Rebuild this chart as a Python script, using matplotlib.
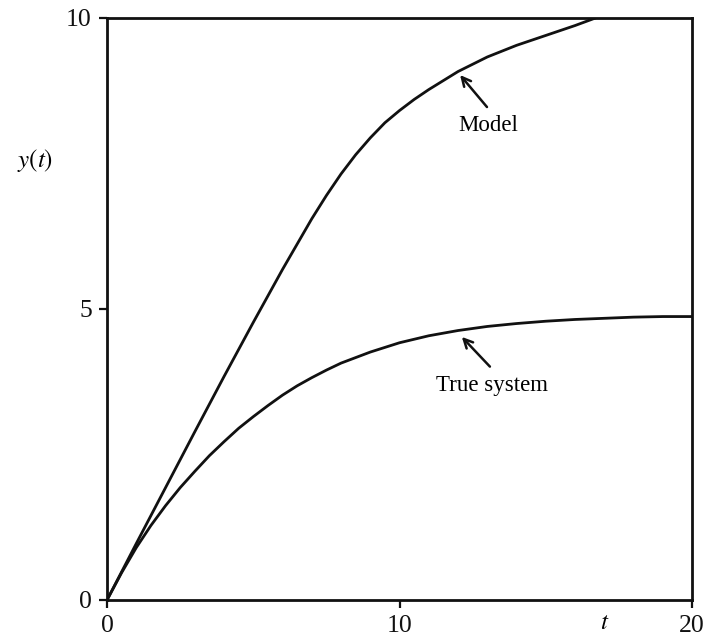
import matplotlib
matplotlib.use('Agg')
import matplotlib.pyplot as plt

plt.rcParams['font.family'] = ['Liberation Serif', 'DejaVu Serif']
plt.rcParams['mathtext.fontset'] = 'stix'

# 阶跃响应：模型 vs 真实系统
t_model = [0.0, 1.0, 2.0, 3.0, 4.0, 5.0, 6.0, 7.0, 7.5, 8.0, 8.5, 9.0, 9.5,
           10.0, 10.5, 11.0, 12.0, 13.0, 14.0, 15.0, 16.0, 16.7]
y_model = [0.0, 0.97, 1.93, 2.89, 3.84, 4.77, 5.68, 6.55, 6.95, 7.32, 7.65,
           7.94, 8.20, 8.41, 8.60, 8.77, 9.08, 9.33, 9.53, 9.70, 9.87, 10.0]

t_true = [0.0, 0.5, 1.0, 1.5, 2.0, 2.5, 3.0, 3.5, 4.0, 4.5, 5.0, 5.5, 6.0,
          6.5, 7.0, 7.5, 8.0, 9.0, 10.0, 11.0, 12.0, 13.0, 14.0, 15.0, 16.0,
          17.0, 18.0, 19.0, 20.0]
y_true = [0.0, 0.47, 0.90, 1.28, 1.62, 1.93, 2.21, 2.48, 2.72, 2.95, 3.15,
          3.34, 3.52, 3.68, 3.82, 3.95, 4.07, 4.26, 4.42, 4.54, 4.63, 4.70,
          4.75, 4.79, 4.82, 4.84, 4.86, 4.87, 4.87]

x_ticks = [0, 10, 20]
y_ticks = [0, 5, 10]

fig = plt.figure(figsize=(7.06, 6.4), dpi=100)
ax = fig.add_axes([0.1516, 0.0625, 0.8286, 0.9094])

ax.plot(t_model, y_model, color='#111111', linewidth=2.0, solid_joinstyle='round')
ax.plot(t_true, y_true, color='#111111', linewidth=2.0, solid_joinstyle='round')

ax.set_xlim(0, 20)
ax.set_ylim(0, 10)
ax.set_xticks(x_ticks)
ax.set_yticks(y_ticks)
ax.tick_params(direction='out', length=6, width=1.6, labelsize=18.5, pad=5,
               colors='#111111')
for sp in ax.spines.values():
    sp.set_linewidth(2.0)
    sp.set_color('#111111')

# 曲线标注：箭头 + 文字
arrow = dict(arrowstyle='->', color='#111111', lw=1.8, mutation_scale=16,
             shrinkA=0, shrinkB=0)
ax.annotate('', xy=(12.07, 9.02), xytext=(12.99, 8.47), arrowprops=arrow)
ax.text(13.03, 8.16, 'Model', ha='center', va='center', fontsize=16.5)
ax.annotate('', xy=(12.13, 4.52), xytext=(13.09, 4.01), arrowprops=arrow)
ax.text(13.15, 3.69, 'True system', ha='center', va='center', fontsize=16.5)

fig.text(35 / 706, 1 - 160 / 640, r'$y(t)$', fontsize=18, ha='center', va='center')
ax.text(17.0, -0.39, r'$t$', fontsize=18, ha='center', va='center')

plt.savefig('out.png', dpi=100)
plt.close()
